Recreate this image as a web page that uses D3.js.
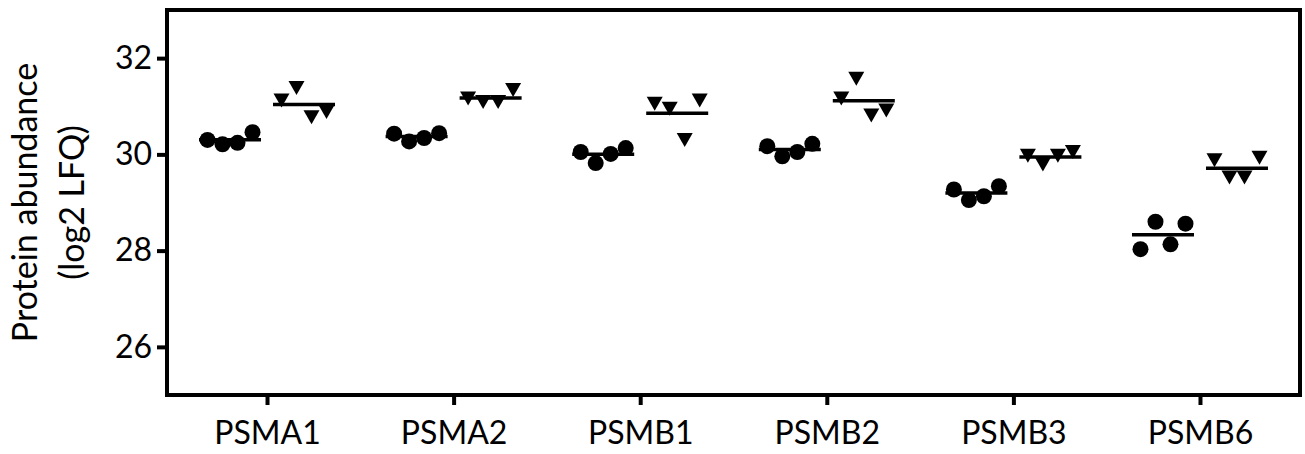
<!DOCTYPE html>
<html>
<head>
<meta charset="utf-8">
<script src="https://cdn.jsdelivr.net/npm/d3@7"></script>
<style>
    body { margin: 0; background: #fff; }
    svg { display: block; font-family: Lato, "Open Sans", sans-serif; }
    .axis text { fill: #000; font-family: Lato, sans-serif; }
    .x-axis text { font-size: 32px; }
    .y-axis text { font-size: 32px; }
    .axis path, .axis line { stroke: #000; stroke-width: 4; }
    .axis-label { font-size: 34px; fill: #000; }
</style>
</head>
<body>
<div id="chart"></div>
<script>
const categories = ["PSMA1", "PSMA2", "PSMB1", "PSMB2", "PSMB3", "PSMB6"];

// group 1 (circles), four replicates per protein
const circleValues = [
    [30.30, 30.21, 30.24, 30.46],
    [30.43, 30.27, 30.34, 30.44],
    [30.05, 29.82, 30.01, 30.13],
    [30.17, 29.96, 30.05, 30.22],
    [29.27, 29.05, 29.13, 29.34],
    [28.03, 28.60, 28.13, 28.56]
];

// group 2 (triangles)
const triangleValues = [
    [31.12, 31.38, 30.77, 30.88],
    [31.16, 31.09, 31.09, 31.34],
    [31.05, 30.95, 30.30, 31.12],
    [31.16, 31.57, 30.81, 30.91],
    [29.97, 29.79, 29.97, 30.05],
    [29.88, 29.52, 29.52, 29.93]
];

const yTicks = [26, 28, 30, 32];
const yLabelLines = ["Protein abundance", "(log2 LFQ)"];

const width = 1305;
const height = 454;
const margin = {top: 10, right: 5, bottom: 59, left: 167};
const innerWidth = width - margin.left - margin.right;
const innerHeight = height - margin.top - margin.bottom;

const svg = d3.select("#chart")
    .append("svg")
    .attr("width", width)
    .attr("height", height)
    .attr("viewBox", `0 0 ${width} ${height}`);

const inner = svg.append("g")
    .attr("transform", `translate(${margin.left}, ${margin.top})`);

const xScale = d3.scalePoint()
    .domain(categories)
    .range([0, innerWidth])
    .padding(0.536);

const yScale = d3.scaleLinear()
    .domain([25, 33])
    .range([innerHeight, 0]);

const groupOffset = 37;   // circles left of the tick, triangles right
const spread = 15;        // horizontal spacing of replicates
const halfMean = 31;      // half length of the mean bar

const trianglePath = "M-8,-7L8,-7L0,7Z";

//frame: top and right sides
inner.append("path")
    .attr("d", `M-2,0H${innerWidth}V${innerHeight + 2}`)
    .attr("fill", "none")
    .attr("stroke", "#000")
    .attr("stroke-width", 4);

//axes
inner.append("g")
    .attr("class", "axis x-axis")
    .attr("transform", `translate(0, ${innerHeight})`)
    .call(d3.axisBottom(xScale).tickSize(10).tickSizeOuter(0))
    .call(g => g.select(".domain").attr("d", `M-2,0H${innerWidth + 2}`))
    .call(g => g.selectAll("text").attr("y", 49).attr("dy", null));

inner.append("g")
    .attr("class", "axis y-axis")
    .call(d3.axisLeft(yScale).tickValues(yTicks).tickSize(10).tickSizeOuter(0).tickPadding(5))
    .call(g => g.select(".domain").attr("d", `M0,-2V${innerHeight + 2}`));

//points and mean bars
const drawGroup = (values, sign, shape) => {
    values.forEach((reps, i) => {
        const cx = xScale(categories[i]) + sign * groupOffset;
        const g = inner.append("g");
        g.selectAll(".pt")
            .data(reps)
            .join(shape === "circle" ? "circle" : "path")
            .attr("class", "pt")
            .each(function(d, j) {
                const x = cx + (j - (reps.length - 1) / 2) * spread;
                const sel = d3.select(this);
                if (shape === "circle") {
                    sel.attr("cx", x).attr("cy", yScale(d)).attr("r", 8);
                } else {
                    sel.attr("d", trianglePath).attr("transform", `translate(${x}, ${yScale(d)})`);
                }
            })
            .attr("fill", "#000");

        const m = d3.mean(reps);
        g.append("line")
            .attr("x1", cx - halfMean)
            .attr("x2", cx + halfMean)
            .attr("y1", yScale(m))
            .attr("y2", yScale(m))
            .attr("stroke", "#000")
            .attr("stroke-width", 3.5);
    });
};

drawGroup(circleValues, -1, "circle");
drawGroup(triangleValues, 1, "triangle");

//y axis label
const labelX = [37, 84];
yLabelLines.forEach((t, i) => {
    svg.append("text")
        .attr("class", "axis-label")
        .attr("transform", `translate(${labelX[i]}, ${margin.top + innerHeight / 2}) rotate(-90)`)
        .attr("text-anchor", "middle")
        .text(t);
});
</script>
</body>
</html>
